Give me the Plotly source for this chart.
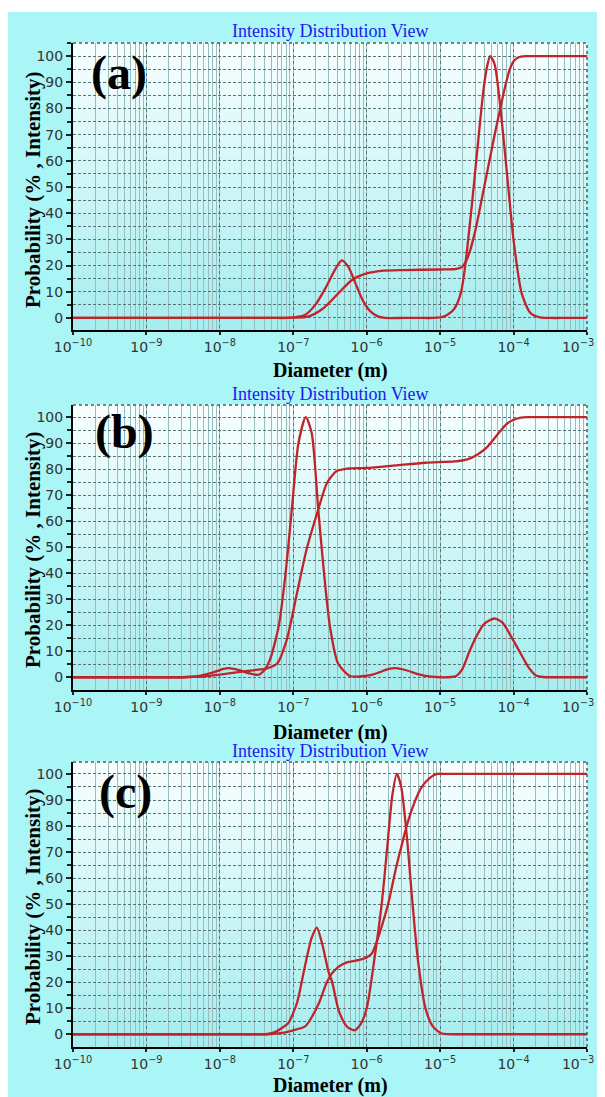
import numpy as np
import plotly.graph_objects as go

# ---------------- data (log10 of diameter in m, value in %) ----------------
# panel (a)
a_dist_logd = [-10.0, -8.5, -7.3, -7.1, -7.0, -6.85, -6.7, -6.55, -6.42, -6.34, -6.25, -6.15, -6.05,
               -5.95, -5.85, -5.75, -5.5, -5.3, -5.1, -5.0, -4.955, -4.9, -4.82, -4.76, -4.71, -4.66,
               -4.57, -4.48, -4.41, -4.36, -4.32, -4.28, -4.25, -4.18, -4.09, -4.0, -3.89, -3.77,
               -3.64, -3.5, -3.3, -3.0]
a_dist_val = [0.0, 0.0, 0.0, 0.0, 0.2, 1.0, 5.0, 12.0, 19.0, 22.0, 19.5, 13.0, 6.5,
              2.5, 0.6, 0.0, 0.0, 0.0, 0.0, 0.2, 0.5, 1.2, 3.0, 6.0, 10.5, 19.6,
              42.5, 68.0, 87.0, 96.0, 100.0, 98.5, 96.0, 80.6, 55.3, 29.8, 9.5, 1.9,
              0.2, 0.0, 0.0, 0.0]
a_cum_logd = [-10.0, -8.5, -7.3, -7.1, -7.0, -6.8, -6.6, -6.4, -6.2, -6.0, -5.8, -5.5, -5.0, -4.82,
              -4.75, -4.7, -4.65, -4.6, -4.55, -4.5, -4.45, -4.4, -4.35, -4.3, -4.25, -4.2, -4.15,
              -4.1, -4.05, -4.0, -3.95, -3.9, -3.82, -3.7, -3.5, -3.0]
a_cum_val = [0.0, 0.0, 0.0, 0.0, 0.1, 0.5, 3.5, 9.0, 14.5, 17.0, 18.0, 18.3, 18.5, 18.6,
             18.9, 19.5, 21.5, 25.0, 30.0, 36.0, 43.0, 50.0, 57.0, 64.0, 71.0, 77.5, 84.0,
             90.0, 95.0, 98.0, 99.3, 99.8, 100.0, 100.0, 100.0, 100.0]

# panel (b)
b_dist_logd = [-10.0, -9.0, -8.6, -8.45, -8.3, -8.1, -7.95, -7.88, -7.75, -7.6, -7.48, -7.4, -7.32,
               -7.2, -7.11, -7.02, -6.93, -6.83, -6.75, -6.66, -6.59, -6.5, -6.39, -6.23, -6.1,
               -5.95, -5.82, -5.7, -5.6, -5.45, -5.3, -5.15, -5.0, -4.85, -4.78, -4.7, -4.6, -4.5,
               -4.4, -4.26, -4.15, -4.05, -3.92, -3.8, -3.7, -3.6, -3.45, -3.25, -3.0]
b_dist_val = [0.0, 0.0, 0.0, 0.1, 0.4, 1.8, 3.2, 3.5, 2.8, 1.5, 0.9, 2.5, 6.6,
              19.4, 38.7, 64.5, 90.0, 100.0, 94.0, 64.5, 42.6, 19.4, 5.3, 0.5, 0.3,
              0.8, 2.0, 3.2, 3.5, 2.6, 1.2, 0.3, 0.0, 0.1, 0.5, 3.0, 10.0, 16.0,
              20.5, 22.6, 21.0, 16.5, 10.0, 4.0, 0.8, 0.1, 0.0, 0.0, 0.0]
b_cum_logd = [-10.0, -9.0, -8.55, -8.4, -8.2, -8.0, -7.8, -7.6, -7.45, -7.36, -7.22, -7.09, -6.95,
              -6.82, -6.66, -6.54, -6.41, -6.27, -6.0, -5.6, -5.2, -4.8, -4.63, -4.5, -4.36, -4.2,
              -4.09, -3.95, -3.82, -3.7, -3.4, -3.0]
b_cum_val = [0.0, 0.0, 0.0, 0.1, 0.3, 1.0, 1.8, 2.5, 3.0, 3.4, 5.3, 14.3, 32.3,
             49.0, 64.5, 74.8, 79.3, 80.2, 80.5, 81.5, 82.5, 83.0, 83.8, 85.5, 88.5, 94.0,
             97.5, 99.5, 100.0, 100.0, 100.0, 100.0]

# panel (c)
c_dist_logd = [-10.0, -8.5, -7.6, -7.45, -7.35, -7.25, -7.15, -7.07, -6.95, -6.85, -6.75, -6.68,
               -6.6, -6.52, -6.47, -6.38, -6.27, -6.17, -6.08, -6.0, -5.94, -5.89, -5.84, -5.79,
               -5.72, -5.65, -5.59, -5.53, -5.45, -5.38, -5.3, -5.2, -5.1, -5.0, -4.95, -4.8,
               -4.5, -4.0, -3.5, -3.0]
c_dist_val = [0.0, 0.0, 0.0, 0.0, 0.1, 0.8, 2.5, 4.2, 12.0, 25.0, 37.0, 41.0,
              34.0, 24.0, 20.0, 9.0, 3.0, 1.5, 4.0, 10.0, 20.0, 30.0, 40.0, 51.5,
              72.0, 92.0, 100.0, 95.0, 75.0, 51.5, 28.0, 10.0, 3.0, 0.6, 0.1, 0.0,
              0.0, 0.0, 0.0, 0.0]
c_cum_logd = [-10.0, -8.5, -7.6, -7.4, -7.3, -7.2, -7.0, -6.84, -6.75, -6.65, -6.55, -6.47, -6.38,
              -6.27, -6.1, -6.0, -5.93, -5.87, -5.8, -5.7, -5.6, -5.52, -5.46, -5.35, -5.25, -5.14,
              -5.04, -4.9, -4.6, -4.2, -3.6, -3.0]
c_cum_val = [0.0, 0.0, 0.0, 0.0, 0.1, 0.3, 1.5, 3.0, 6.5, 12.0, 19.5, 23.5, 26.0,
             27.6, 28.6, 29.5, 31.0, 35.0, 41.0, 51.0, 64.0, 73.0, 79.6, 89.0, 95.0, 98.5,
             100.0, 100.0, 100.0, 100.0, 100.0, 100.0]

panel_labels = ["(a)", "(b)", "(c)"]
chart_title = "Intensity Distribution View"
x_title = "Diameter (m)"
y_title = "Probability (% , Intensity)"
x_tick_vals = [1e-10, 1e-9, 1e-8, 1e-7, 1e-6, 1e-5, 1e-4, 1e-3]
x_tick_text = ["10<sup>\u221210</sup>", "10<sup>\u22129</sup>", "10<sup>\u22128</sup>",
               "10<sup>\u22127</sup>", "10<sup>\u22126</sup>", "10<sup>\u22125</sup>",
               "10<sup>\u22124</sup>", "10<sup>\u22123</sup>\u00a0\u00a0\u00a0\u00a0"]
y_tick_vals = [0, 10, 20, 30, 40, 50, 60, 70, 80, 90, 100]

series = [
    (a_dist_logd, a_dist_val, a_cum_logd, a_cum_val),
    (b_dist_logd, b_dist_val, b_cum_logd, b_cum_val),
    (c_dist_logd, c_dist_val, c_cum_logd, c_cum_val),
]

# ---------------- geometry (screen pixels; page body margin is 8px) ----------------
OFF = 8
W, H = 605, 1097
PX_L, PX_R = 73, 587
panels = [
    dict(top=43, bottom=330, yr=[-4.6, 105.0], title_y=31, lab=(119, 73), xt_y=370, yt_y=190),
    dict(top=405, bottom=690, yr=[-4.9, 104.7], title_y=394, lab=(124, 432), xt_y=732, yt_y=550),
    dict(top=762, bottom=1047, yr=[-4.9, 104.6], title_y=751, lab=(125, 792), xt_y=1085, yt_y=907),
]


def fx(px):
    return (px - OFF) / W


def fy(py):
    return 1 - (py - OFF) / H


RED = "#c0242b"
CYAN = "#aaf5f6"
GRID_DARK = "#557777"
GRID_MINOR = "#98bdbe"
TICK_FONT = dict(family="DejaVu Sans", size=14, color="#333")

fig = go.Figure()
shapes = []
annotations = []

# white strip at very top
shapes.append(dict(type="rect", xref="paper", yref="paper", x0=0, x1=1, y0=fy(12), y1=1.01,
                   fillcolor="white", line=dict(width=0), layer="below"))

top_rgb = np.array([250, 255, 255])
bot_rgb = np.array([165, 237, 239])
NB = 40

for i, (p, (dl, dv, cl, cv)) in enumerate(zip(panels, series)):
    n = "" if i == 0 else str(i + 1)
    xa = "x" + n
    ya = "y" + n
    for lx, ly in ((dl, dv), (cl, cv)):
        fig.add_trace(go.Scatter(x=np.power(10.0, lx), y=ly, mode="lines", xaxis=xa, yaxis=ya,
                                 line=dict(color=RED, width=2.3, shape="spline", smoothing=0.7),
                                 showlegend=False, hoverinfo="skip"))

    xdom = [fx(PX_L), fx(PX_R)]
    ydom = [fy(p["bottom"]), fy(p["top"])]
    fig.update_layout(**{
        "xaxis" + n: dict(
            domain=xdom, type="log", range=[-10.0004, -2.9996],
            tickvals=x_tick_vals, ticktext=x_tick_text, ticklabeloverflow="allow",
            automargin=False,
            showline=True, linecolor="black", linewidth=2,
            ticks="outside", ticklen=3, tickwidth=2, tickcolor="#222",
            showgrid=True, gridcolor=GRID_DARK, gridwidth=1, griddash="dot",
            minor=dict(dtick="D1", showgrid=True, gridcolor=GRID_MINOR, gridwidth=1,
                       griddash="solid", ticks=""),
            tickfont=TICK_FONT, anchor=ya, zeroline=False, fixedrange=True,
        ),
        "yaxis" + n: dict(
            domain=ydom, range=p["yr"], tickvals=y_tick_vals, automargin=False,
            showline=True, linecolor="black", linewidth=2,
            ticks="outside", ticklen=5, tickwidth=1.5, tickcolor="#222",
            showgrid=True, gridcolor=GRID_DARK, gridwidth=1, griddash="3px,2px",
            minor=dict(dtick=5, tick0=0, showgrid=True, gridcolor=GRID_DARK, gridwidth=1,
                       griddash="3px,2px", ticks="outside", ticklen=4, tickcolor="#222"),
            tickfont=TICK_FONT, anchor=xa, zeroline=False, fixedrange=True,
        ),
    })

    # gradient plot background
    for k in range(NB):
        t = (k + 0.5) / NB
        c = bot_rgb + (top_rgb - bot_rgb) * t
        shapes.append(dict(type="rect", xref=xa + " domain", yref=ya + " domain",
                           x0=0, x1=1, y0=k / NB, y1=(k + 1) / NB + 0.002,
                           fillcolor="rgb(%d,%d,%d)" % tuple(c.astype(int)),
                           line=dict(width=0), layer="below"))
    # top and right dotted frame
    shapes.append(dict(type="line", xref=xa + " domain", yref=ya + " domain", x0=0, x1=1, y0=1, y1=1,
                       line=dict(color="#4a5e5e", width=1.5, dash="dot"), layer="above"))
    shapes.append(dict(type="line", xref=xa + " domain", yref=ya + " domain", x0=1, x1=1, y0=0, y1=1,
                       line=dict(color="#4a5e5e", width=1.5, dash="dot"), layer="above"))

    # texts
    annotations.append(dict(text=chart_title, xref="paper", yref="paper",
                            x=fx((PX_L + PX_R) / 2), y=fy(p["title_y"]), xanchor="center", yanchor="middle",
                            showarrow=False, font=dict(family="Liberation Serif", size=18, color="#1a1aee")))
    annotations.append(dict(text="<b>%s</b>" % panel_labels[i], xref="paper", yref="paper",
                            x=fx(p["lab"][0]), y=fy(p["lab"][1]), xanchor="center", yanchor="middle",
                            showarrow=False, font=dict(family="Liberation Serif", size=48, color="black")))
    annotations.append(dict(text="<b>%s</b>" % x_title, xref="paper", yref="paper",
                            x=fx((PX_L + PX_R) / 2), y=fy(p["xt_y"]), xanchor="center", yanchor="middle",
                            showarrow=False, font=dict(family="Liberation Serif", size=20, color="black")))
    annotations.append(dict(text="<b>%s</b>" % y_title, xref="paper", yref="paper", textangle=-90,
                            x=fx(33), y=fy(p["yt_y"]), xanchor="center", yanchor="middle",
                            showarrow=False, font=dict(family="Liberation Serif", size=21, color="black")))

fig.update_layout(
    template="none",
    width=W, height=H, margin=dict(l=0, r=0, t=0, b=0, pad=0, autoexpand=False),
    paper_bgcolor=CYAN, plot_bgcolor="rgba(0,0,0,0)",
    shapes=shapes, annotations=annotations, showlegend=False,
)

fig.write_html("out.html", config=dict(displayModeBar=False))
